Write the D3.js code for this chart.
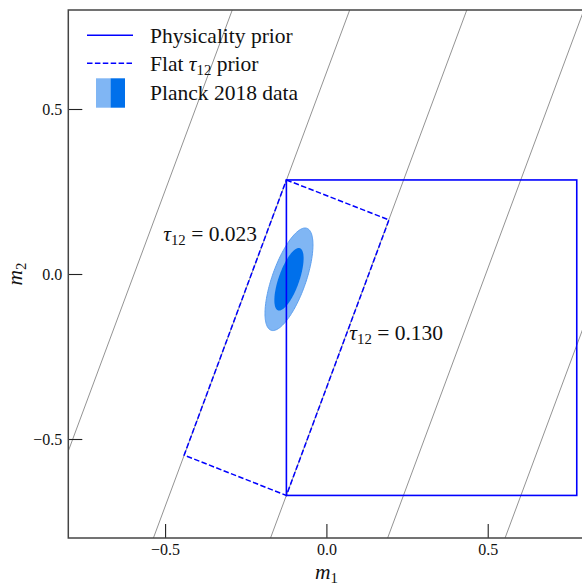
<!DOCTYPE html>
<html><head><meta charset="utf-8">
<script src="https://cdn.jsdelivr.net/npm/d3@7"></script>
<style>
html,body{margin:0;padding:0;background:#fff;}
svg{display:block;}
svg text{font-family:"Liberation Serif",serif;}
</style></head><body>
<svg id="chart" width="582" height="587"></svg>
<script>
// ---------------- data ----------------
const xDomain = [-0.8, 0.8];
const yDomain = [-0.8, 0.8];
const xTicks = [-0.5, 0.0, 0.5];
const yTicks = [-0.5, 0.0, 0.5];
// lines of constant tau12: m1 where each line crosses m2 = 0, common slope dm2/dm1
const tauLineM1 = [-0.596, -0.232, 0.131, 0.494, 0.858];
const tauLineSlope = 2.63;
// labelled tau12 values and anchor points (m1, m2)
const tauLabelValues = ["0.023", "0.130"];
const tauLabelM1 = [-0.215, 0.071];
const tauLabelM2 = [0.10, -0.20];
// physicality prior (rectangle)
const physM1 = [-0.124, 0.776];
const physM2 = [-0.671, 0.285];
// flat tau12 prior (parallelogram vertices)
const flatM1 = [-0.124, 0.194, -0.124, -0.441];
const flatM2 = [0.285, 0.164, -0.671, -0.549];
// Planck 2018 data: gaussian mean, sigmas, correlation, delta-chi2 levels (2σ, 1σ)
const planckMean = [-0.116, -0.016];
const planckSigma = [0.0299, 0.0625];
const planckRho = 0.67;
const planckLevels = [6.18, 2.30];
const legendLabels = ["Physicality prior", "Flat τ12 prior", "Planck 2018 data"];

// ---------------- layout ----------------
const svg = d3.select("#chart");
const L = 68.3, R = 584.5, T = 10, B = 538;
const FS = 21.5, SUB = 14.8;
const x = d3.scaleLinear().domain(xDomain).range([L, R]);
const y = d3.scaleLinear().domain(yDomain).range([B, T]);

svg.append("defs").append("clipPath").attr("id", "clip")
  .append("rect").attr("x", L).attr("y", T).attr("width", R - L).attr("height", B - T);
const plot = svg.append("g").attr("clip-path", "url(#clip)");

// Planck ellipses
const ellFill = ["#80b6f4", "#0070eb"];
planckLevels.forEach((lev, i) => {
  const k = Math.sqrt(lev);
  const pts = d3.range(0, 181).map(j => {
    const t = j / 180 * 2 * Math.PI;
    const z1 = k * Math.cos(t), z2 = k * Math.sin(t);
    return [planckMean[0] + planckSigma[0] * z1,
            planckMean[1] + planckSigma[1] * (planckRho * z1 + Math.sqrt(1 - planckRho * planckRho) * z2)];
  });
  plot.append("path")
    .attr("d", d3.line().x(d => x(d[0])).y(d => y(d[1])).curve(d3.curveLinearClosed)(pts))
    .attr("fill", ellFill[i])
    .attr("stroke", i === 0 ? "#5d9fee" : "none")
    .attr("stroke-width", 1);
});

// gray tau lines
tauLineM1.forEach(m0 => {
  const m2a = yDomain[0], m2b = yDomain[1];
  plot.append("line")
    .attr("x1", x(m0 + m2a / tauLineSlope)).attr("y1", y(m2a))
    .attr("x2", x(m0 + m2b / tauLineSlope)).attr("y2", y(m2b))
    .attr("stroke", "#808080").attr("stroke-width", 0.85);
});

// flat prior parallelogram
const flatPts = flatM1.map((m, i) => [m, flatM2[i]]);
plot.append("path")
  .attr("d", d3.line().x(d => x(d[0])).y(d => y(d[1])).curve(d3.curveLinearClosed)(flatPts))
  .attr("fill", "none").attr("stroke", "#0000ff").attr("stroke-width", 1.5)
  .attr("stroke-dasharray", "5.5,2.4");

// physicality rectangle
plot.append("rect")
  .attr("x", x(physM1[0])).attr("y", y(physM2[1]))
  .attr("width", x(physM1[1]) - x(physM1[0])).attr("height", y(physM2[0]) - y(physM2[1]))
  .attr("fill", "none").attr("stroke", "#0000ff").attr("stroke-width", 1.6);

// tau labels
tauLabelValues.forEach((v, i) => {
  const t = svg.append("text")
    .attr("x", x(tauLabelM1[i])).attr("y", y(tauLabelM2[i]))
    .attr("text-anchor", i === 0 ? "end" : "start")
    .attr("font-size", FS).attr("fill", "#111");
  t.append("tspan").attr("font-style", "italic").text("τ");
  t.append("tspan").attr("font-size", SUB).attr("dy", 4).text("12");
  t.append("tspan").attr("dy", -4).text(" = " + v);
});

// axes
const fmt = d3.format(".1f");
const gx = svg.append("g").attr("transform", `translate(0,${B})`)
  .call(d3.axisBottom(x).tickValues(xTicks).tickSize(-14).tickPadding(6).tickFormat(fmt));
const gy = svg.append("g").attr("transform", `translate(${L},0)`)
  .call(d3.axisLeft(y).tickValues(yTicks).tickSize(-14).tickPadding(6).tickFormat(fmt));
[gx, gy].forEach(g => {
  g.select(".domain").remove();
  g.selectAll(".tick line").attr("stroke", "#222").attr("stroke-width", 1.1);
  g.selectAll(".tick text").attr("font-family", "Liberation Serif").attr("font-size", 16).attr("fill", "#111");
});
// frame
svg.append("rect").attr("x", L).attr("y", T).attr("width", R - L).attr("height", B - T)
  .attr("fill", "none").attr("stroke", "#444").attr("stroke-width", 1.5);

// axis labels
const xl = svg.append("text").attr("x", x(0)).attr("y", 579).attr("text-anchor", "middle")
  .attr("font-size", FS).attr("fill", "#111");
xl.append("tspan").attr("font-style", "italic").text("m");
xl.append("tspan").attr("font-size", SUB).attr("dy", 4).text("1");
const yl = svg.append("text").attr("transform", `translate(22,${y(0)}) rotate(-90)`)
  .attr("text-anchor", "middle").attr("font-size", FS).attr("fill", "#111");
yl.append("tspan").attr("font-style", "italic").text("m");
yl.append("tspan").attr("font-size", SUB).attr("dy", 4).text("2");

// legend
const lg = svg.append("g");
const lx0 = 87, lx1 = 133, tx = 150;
const rowLineY = [35.3, 63.3, 93];
const rowTextY = [43.3, 70.7, 100];
lg.append("line").attr("x1", lx0).attr("x2", lx1).attr("y1", rowLineY[0]).attr("y2", rowLineY[0])
  .attr("stroke", "#0000ff").attr("stroke-width", 1.5);
lg.append("line").attr("x1", lx0).attr("x2", lx1).attr("y1", rowLineY[1]).attr("y2", rowLineY[1])
  .attr("stroke", "#0000ff").attr("stroke-width", 1.5).attr("stroke-dasharray", "5.5,2.4");
lg.append("rect").attr("x", 96).attr("y", 78.3).attr("width", 14.5).attr("height", 29.4).attr("fill", ellFill[0]);
lg.append("rect").attr("x", 110.5).attr("y", 78.3).attr("width", 14.5).attr("height", 29.4).attr("fill", ellFill[1]);
legendLabels.forEach((s, i) => {
  const t = lg.append("text").attr("x", tx).attr("y", rowTextY[i]).attr("font-size", FS).attr("fill", "#111");
  if (s.includes("τ12")) {
    const parts = s.split("τ12");
    t.append("tspan").text(parts[0]);
    t.append("tspan").attr("font-style", "italic").text("τ");
    t.append("tspan").attr("font-size", SUB).attr("dy", 4).text("12");
    t.append("tspan").attr("dy", -4).text(parts[1]);
  } else {
    t.text(s);
  }
});
</script>
</body></html>
